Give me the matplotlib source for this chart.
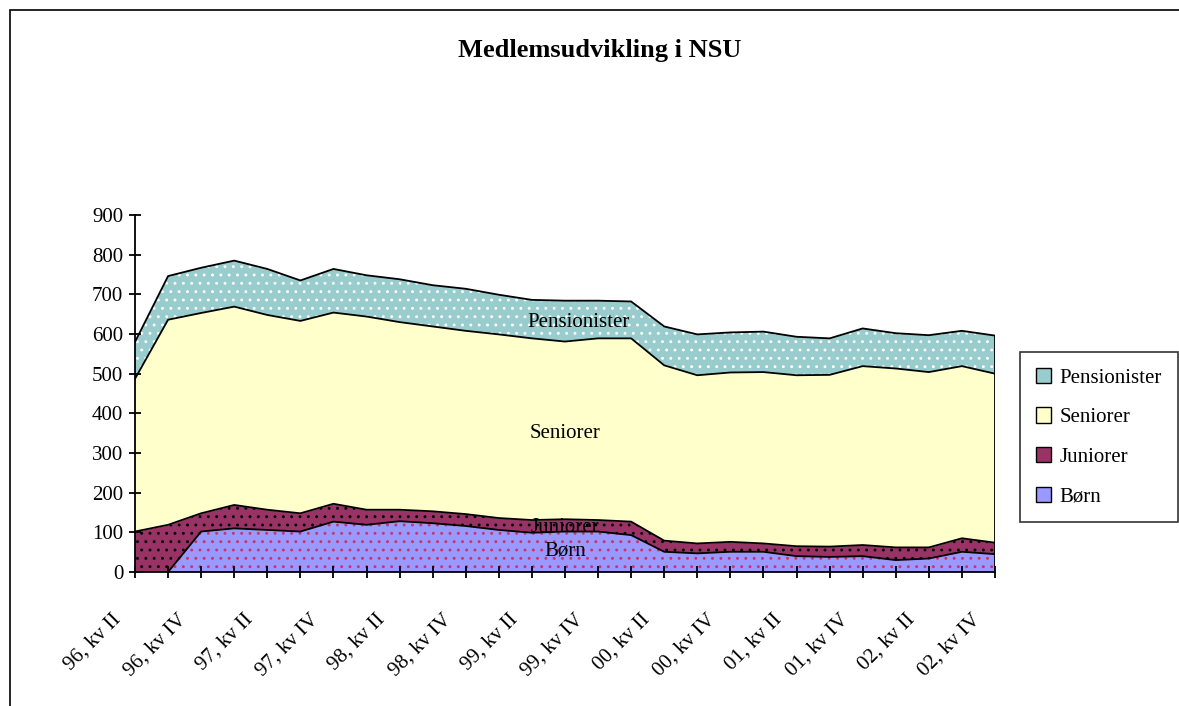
import matplotlib
matplotlib.use("Agg")
import matplotlib.pyplot as plt
from matplotlib.patches import Patch, Rectangle
from matplotlib.transforms import ScaledTranslation
import numpy as np

plt.rcParams['font.family'] = ['Liberation Serif', 'DejaVu Serif']
plt.rcParams['hatch.linewidth'] = 0.9

# quarters 96 kv II .. 02 kv IV
quarters = ["96, kv II", "96, kv III", "96, kv IV",
            "97, kv I", "97, kv II", "97, kv III", "97, kv IV",
            "98, kv I", "98, kv II", "98, kv III", "98, kv IV",
            "99, kv I", "99, kv II", "99, kv III", "99, kv IV",
            "00, kv I", "00, kv II", "00, kv III", "00, kv IV",
            "01, kv I", "01, kv II", "01, kv III", "01, kv IV",
            "02, kv I", "02, kv II", "02, kv III", "02, kv IV"]

born = [0, 0, 102, 110, 106, 102, 127, 119, 128, 123, 116, 106, 99, 102,
        102, 93, 51, 47, 51, 51, 40, 38, 40, 30, 34, 51, 45]
juniorer = [102, 119, 46, 59, 51, 46, 45, 38, 29, 30, 30, 30, 32, 31,
            29, 34, 28, 25, 25, 21, 25, 26, 28, 32, 28, 34, 29]
seniorer = [385, 517, 505, 500, 491, 485, 482, 487, 473, 466, 462, 463, 458, 448,
            458, 462, 442, 424, 427, 432, 431, 433, 451, 451, 442, 434, 426]
pensionister = [93, 110, 114, 116, 116, 102, 110, 104, 108, 104, 106, 100, 97, 103,
                95, 93, 98, 103, 101, 102, 97, 92, 95, 89, 93, 89, 96]

series = ["Børn", "Juniorer", "Seniorer", "Pensionister"]
face = ["#9999FF", "#993366", "#FFFFCC", "#99CCCC"]
dots = ["#CC3366", "#000000", "#FFFFCC", "#FFFFFF"]
hatches = ["..", "..", None, ".."]

W, H = 1179, 706
fig = plt.figure(figsize=(W / 100, H / 100), dpi=100)
fig.patch.set_facecolor("white")

# chart area border (only top/left visible in the original)
fig.patches.append(Rectangle((10 / W, -0.1), 1.2, 1 - 10 / H + 0.1,
                             transform=fig.transFigure, fill=False,
                             edgecolor="black", linewidth=1.2))

ax = fig.add_axes([135 / W, (H - 572) / H, 860 / W, 357 / H])
x = np.arange(len(quarters))
data = [born, juniorer, seniorer, pensionister]

base = np.zeros(len(x))
tops = []
for vals, fc, dc, h in zip(data, face, dots, hatches):
    top = base + np.array(vals)
    ax.fill_between(x, base, top, facecolor=fc, edgecolor=dc, hatch=h,
                    linewidth=0, zorder=1)
    tops.append(top)
    base = top

for top in tops:
    ax.plot(x, top, color="black", linewidth=1.3, zorder=3)
ax.vlines(x[-1], 0, tops[-1][-1], color="black", linewidth=1.3, zorder=3)

ax.set_xlim(0, len(x) - 1)
ax.set_ylim(0, 900)
ax.set_yticks(range(0, 901, 100))
ax.set_xticks(x)
ax.set_xticklabels([q if i % 2 == 0 else "" for i, q in enumerate(quarters)],
                   rotation=45, ha="right", rotation_mode="anchor")
ax.tick_params(axis="both", direction="inout", length=9, width=1.3,
               labelsize=15, colors="black")
ax.tick_params(axis="x", pad=4)
ax.tick_params(axis="y", pad=4)
shift = ScaledTranslation(-24 / 100, -26 / 100, fig.dpi_scale_trans)
for lab in ax.get_xticklabels():
    lab.set_transform(lab.get_transform() + shift)
for s in ["top", "right"]:
    ax.spines[s].set_visible(False)
for s in ["left", "bottom"]:
    ax.spines[s].set_linewidth(1.3)
    ax.spines[s].set_zorder(4)
ax.set_facecolor("none")

# labels inside areas
ax.text(13.4, 630, "Pensionister", ha="center", va="center", fontsize=15, zorder=5)
ax.text(13.0, 350, "Seniorer", ha="center", va="center", fontsize=15, zorder=5)
ax.text(13.0, 113, "Juniorer", ha="center", va="center", fontsize=15, zorder=5)
ax.text(13.0, 53, "Børn", ha="center", va="center", fontsize=15, zorder=5)

fig.text(600 / W, 1 - 50 / H, "Medlemsudvikling i NSU", ha="center", va="center",
         fontsize=19, fontweight="bold")

handles = [Patch(facecolor=face[i], edgecolor="black", linewidth=1.0, label=series[i])
           for i in [3, 2, 1, 0]]
leg = fig.legend(handles=handles, loc="upper left",
                 bbox_to_anchor=(1020 / W, 1 - 352 / H), fontsize=15,
                 frameon=True, fancybox=False, edgecolor="black",
                 handlelength=0.75, handleheight=0.75, handletextpad=0.4,
                 labelspacing=0.95, borderpad=0.75, borderaxespad=0)
leg.get_frame().set_linewidth(1.2)

fig.savefig("out.png", dpi=100)
